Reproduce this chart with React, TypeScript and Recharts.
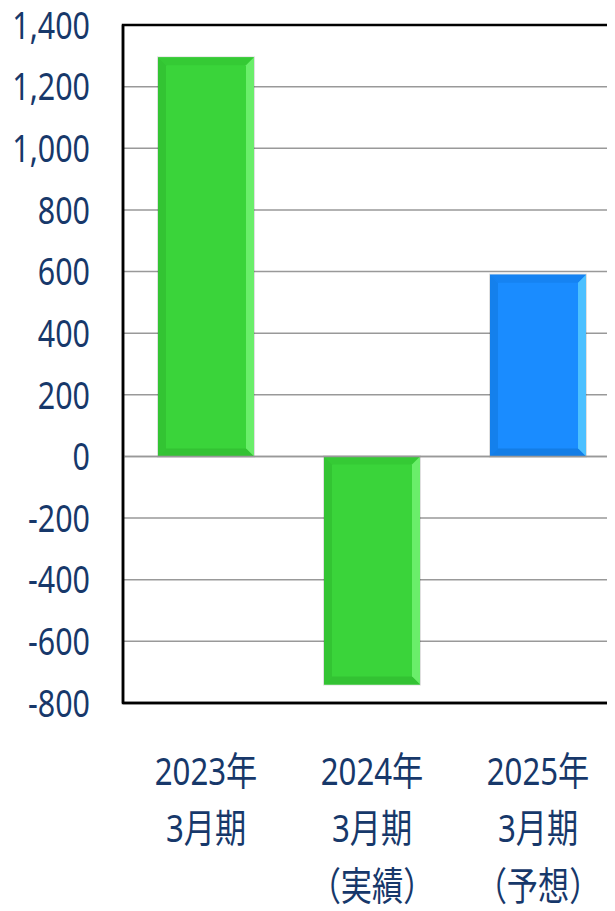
import React from "react";
import { BarChart, Bar, XAxis, YAxis, CartesianGrid, Cell, ReferenceArea, ReferenceLine } from "recharts";

const categories = ["2023年|3月期", "2024年|3月期|（実績）", "2025年|3月期|（予想）"];
const values = [1295, -740, 590];
const yTicks = [-800, -600, -400, -200, 0, 200, 400, 600, 800, 1000, 1200, 1400];
const barColors = ["green", "green", "blue"];

const palette: Record<string, { main: string; top: string; left: string; right: string; bottom: string }> = {
  green: { main: "#3AD43A", top: "#35CA35", left: "#33C433", right: "#6AEE6A", bottom: "#33C233" },
  blue: { main: "#1A8CFF", top: "#1683F2", left: "#1480EC", right: "#4CC0FF", bottom: "#137DE6" },
};

const data = categories.map((c, i) => ({ name: c, value: values[i], color: barColors[i] }));

const TEXT = "#17386A";
const FONT = "'Noto Sans', 'Noto Sans CJK JP', sans-serif";
const SX = 0.8;

const BevelBar = (props: any) => {
  const { x, y, width, height, payload } = props;
  const c = palette[payload.color];
  const y0 = Math.min(y, y + height);
  const h = Math.abs(height);
  const w = width;
  const b = 8;
  return (
    <g>
      <rect x={x - 1} y={y0 - 1} width={w + 2} height={h + 2} fill="rgba(0,0,0,0.12)" />
      <rect x={x} y={y0} width={w} height={h} fill={c.main} />
      <polygon points={`${x},${y0} ${x + w},${y0} ${x + w - b},${y0 + b} ${x + b},${y0 + b}`} fill={c.top} />
      <polygon points={`${x},${y0} ${x + b},${y0 + b} ${x + b},${y0 + h - b} ${x},${y0 + h}`} fill={c.left} />
      <polygon points={`${x + w},${y0} ${x + w},${y0 + h} ${x + w - b},${y0 + h - b} ${x + w - b},${y0 + b}`} fill={c.right} />
      <polygon points={`${x},${y0 + h} ${x + w},${y0 + h} ${x + w - b},${y0 + h - b} ${x + b},${y0 + h - b}`} fill={c.bottom} />
    </g>
  );
};

const XTick = (props: any) => {
  const { x, y, payload } = props;
  const lines = String(payload.value).split("|");
  const dys = [74, 57, 58];
  return (
    <g transform={`translate(${x},${y}) scale(${SX},1)`}>
      <text x={0} y={0} textAnchor="middle" fill={TEXT} fontSize={39} fontFamily={FONT}>
        {lines.map((l, i) => (
          <tspan key={i} x={0} dy={dys[i]}>
            {l}
          </tspan>
        ))}
      </text>
    </g>
  );
};

const YTick = (props: any) => {
  const { x, y, payload } = props;
  return (
    <g transform={`translate(${x},${y}) scale(${SX},1)`}>
      <text x={0} y={0} dy="0.36em" textAnchor="end" fill={TEXT} fontSize={38} fontFamily={FONT}>
        {Number(payload.value).toLocaleString("en-US")}
      </text>
    </g>
  );
};

export default function App() {
  return (
    <div style={{ width: 607, height: 903, overflow: "hidden" }}>
      <BarChart
        width={630}
        height={903}
        data={data}
        margin={{ top: 17, right: 17, bottom: 0, left: 0 }}
      >
        <CartesianGrid vertical={false} stroke="#999999" strokeWidth={1.5} />
        <XAxis
          dataKey="name"
          tick={<XTick />}
          tickLine={false}
          axisLine={{ stroke: "#000", strokeWidth: 2.5 }}
          height={208}
          interval={0}
        />
        <YAxis
          domain={[-800, 1400]}
          ticks={yTicks}
          interval={0}
          width={115}
          tickLine={false}
          tickSize={0}
          tickMargin={33}
          axisLine={{ stroke: "#000", strokeWidth: 2.5 }}
          tick={<YTick />}
        />
        <Bar dataKey="value" barSize={96} isAnimationActive={false} shape={<BevelBar />}>
          {data.map((d, i) => (
            <Cell key={i} fill={palette[d.color].main} />
          ))}
        </Bar>
        <ReferenceLine y={0} stroke="#999999" strokeWidth={1.5} />
        <ReferenceArea y1={-800} y2={1400} fill="none" stroke="#000" strokeWidth={2.5} ifOverflow="visible" />
      </BarChart>
    </div>
  );
}
